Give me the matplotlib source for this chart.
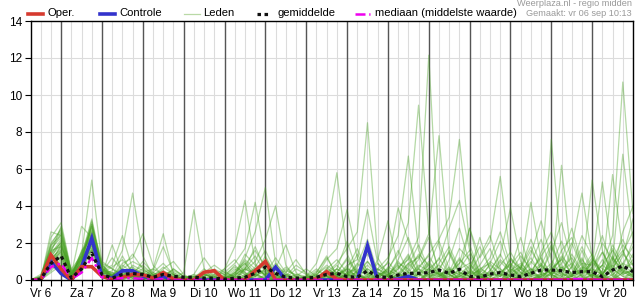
import numpy as np
import matplotlib
matplotlib.use('Agg')
import matplotlib.pyplot as plt
from matplotlib.lines import Line2D

plt.rcParams['font.family'] = ['Liberation Sans', 'DejaVu Sans']

# 6-uurlijkse stappen vanaf vr 6 sep 06:00 t/m za 21 00:00
dagen = ['Vr 6', 'Za 7', 'Zo 8', 'Ma 9', 'Di 10', 'Wo 11', 'Do 12', 'Vr 13',
         'Za 14', 'Zo 15', 'Ma 16', 'Di 17', 'Wo 18', 'Do 19', 'Vr 20']

oper = [0, 0, 1.35, 0.6, 0, 0.72, 0.72, 0.2, 0.02, 0.15, 0.3, 0.28, 0.1, 0.4, 0.05,
        0, 0, 0.42, 0.5, 0, 0, 0, 0.5, 1.0, 0, 0, 0, 0, 0.05, 0.45, 0.05,
        0, 0, 0, 0, 0, 0, 0, 0, 0, 0, 0, 0, 0, 0, 0, 0, 0, 0, 0, 0, 0, 0, 0, 0, 0, 0, 0, 0, 0]
controle = [0, 0, 1.0, 0.35, 0, 0.7, 2.25, 0.2, 0.1, 0.5, 0.5, 0.2, 0.1, 0.2, 0,
            0, 0, 0, 0, 0, 0, 0, 0, 0, 0.7, 0, 0, 0, 0, 0, 0,
            0, 0, 1.85, 0, 0, 0.05, 0.2, 0, 0, 0, 0, 0, 0, 0, 0, 0, 0, 0, 0, 0, 0, 0, 0, 0, 0, 0, 0, 0, 0]
gemiddelde = [0, 0.05, 0.9, 1.3, 0.1, 0.6, 1.45, 0.3, 0.1, 0.3, 0.35, 0.3, 0.15, 0.3, 0.2,
              0.15, 0.15, 0.1, 0.1, 0.05, 0.1, 0.15, 0.36, 0.7, 0.36, 0.15, 0.1, 0.1, 0.15, 0.3, 0.36,
              0.18, 0.15, 0.5, 0.18, 0.13, 0.27, 0.36, 0.36, 0.4, 0.54, 0.36, 0.58, 0.2, 0.15,
              0.32, 0.4, 0.27, 0.18, 0.36, 0.54, 0.54, 0.5, 0.4, 0.45, 0.45, 0.18, 0.54, 0.76, 0.45]
mediaan = [0, 0, 0.7, 0.9, 0.05, 0.4, 1.2, 0.15, 0.05, 0.1, 0.1, 0.05, 0, 0.05, 0,
           0, 0, 0, 0, 0, 0, 0, 0, 0.05, 0, 0, 0, 0, 0, 0, 0,
           0, 0, 0, 0, 0, 0, 0, 0, 0, 0, 0, 0, 0, 0, 0, 0, 0, 0, 0, 0, 0, 0, 0.05, 0.05, 0, 0, 0, 0, 0]

# ensemble-leden (afgelezen, niet alle 50)
m01 = [0,0,1.2, 2.1,.3,1.1,3.2, .6,.2,.4,.3, .1,0,.3,.1, 0,0,.1,0, 0,.2,1.1,.6, .3,0,0,0, 0,0,.3,.8, .2,0,.1,.6, .3,0,0,0, .4,1.2,.3,0, 0,0,.5,1.4, .3,0,0,.2, 7.6,1.5,.2,0, 0,.3,1.1,2.2, .8]
m02 = [0,.1,1.8, 2.6,.2,1.4,5.4, .9,.1,0,.2, 0,.3,.1,0, 0,.1,0,0, .2,.8,.3,0, 0,.1,.6,.2, 0,0,0,.4, 1.1,.3,0,0, 0,.6,1.4,.3, 0,0,.2,.9, 1.6,.4,0,0, .2,.7,1.8,.5, 0,6.2,.8,.1, .3,0,0,.6, .2]
m03 = [0,0,.9, 1.6,.1,.8,2.4, .3,.5,1.6,4.7, 1.3,.2,0,0, 0,0,.3,.1, 0,0,0,.3, .9,.2,0,0, .1,.4,1.2,.3, 0,0,0,0, .2,1.1,2.3,.6, .1,0,.3,0, 0,.5,1.2,2.6, .8,0,0,.3, .5,.1,1.8,4.7, 1.2,.3,0,.4, 1.1]
m04 = [0,.2,1.5, 2.9,.4,1.2,2.8, .5,.8,2.4,.6, .2,.1,.4,.1, 0,0,0,0, .1,.4,.9,.2, 0,0,0,0, .2,.6,.2,0, .3,1.4,.5,0, 0,0,.4,1.1, 2.3,.5,0,.2, .6,0,0,0, 0,.2,.4,1.3, 2.1,.4,0,.3, 5.4,1.6,.2,0, .4]
m05 = [0,0,2.3, 3.1,.5,.6,1.9, .4,.2,.9,1.2, 2.5,.8,.2,0, 0,.2,0,0, 0,0,.6,1.3, .4,0,0,.1, 0,0,0,.2, .7,.1,0,.2, 1.0,.3,0,0, .3,0,1.1,2.8, .9,.2,0,0, .4,1.3,.6,.1, 0,0,.3,.9, .8,5.3,1.2,.4, .2]
m06 = [0,0,1.1, 1.8,.2,.9,3.0, .7,.1,.3,.5, .4,.6,2.5,.3, 0,0,0,.2, .5,.1,0,0, .3,1.2,.4,0, 0,0,.6,1.1, .4,0,0,0, 0,.2,.8,1.9, .6,.3,0,0, 0,.1,.4,.2, 1.2,.6,.1,0, .3,.9,2.0,.7, .1,.4,5.7,1.6, .3]
m07 = [0,.1,.7, 1.3,.1,1.6,2.2, .2,0,.1,.8, .5,.1,.2,.1, .4,3.8,.6,0, 0,0,.2,.5, 1.1,.3,0,0, 0,.2,0,0, 0,.5,1.0,.2, 0,0,0,.3, .8,2.1,.6,0, .2,0,0,.4, .9,0,.3,.8, 1.9,.6,0,0, .2,.8,2.4,10.7, 3.6]
m08 = [0,0,1.9, 2.4,.3,1.3,3.3, .8,.3,.6,.1, 0,0,.1,.6, .2,0,0,.1, .6,1.8,4.3,.9, .2,0,.3,0, 0,0,.1,.2, .6,1.7,.4,0, .2,0,0,.4, 1.0,.3,0,.6, 1.4,.2,0,0, 0,.6,2.2,.8, .3,.1,0,.6, 1.4,.3,1.0,6.8, 2.1]
m09 = [0,0,.5, 1.0,0,.4,1.7, .3,.1,.2,0, .3,.2,0,0, 0,.1,.4,.8, .4,.9,1.7,4.2, 1.2,.3,.1,0, 0,.1,.4,.2, 0,0,.2,.9, .4,.2,0,0, .1,.5,1.6,.4, .2,0,.9,2.1, .5,0,0,0, .4,1.2,.3,0, 0,0,.6,1.5, 2.6]
m10 = [0,.1,1.4, 2.2,.2,1.0,2.6, .6,.4,.1,.2, 0,.4,.9,.3, 0,0,0,0, 0,.3,1.2,2.6, 5.0,.9,.2,0, .1,0,0,.6, 2.1,.4,0,0, 0,0,.7,1.3, .2,0,0,.3, .7,1.8,.6,0, 0,.2,.6,0, .8,2.1,.7,.2, 0,.5,1.9,.8, .4]
m11 = [0,0,1.0, 1.5,.3,.7,2.0, .4,1.2,.5,.2, .1,0,.3,.5, .2,.1,0,0, 0,0,.5,1.0, 2.2,4.0,.8,.1, 0,0,0,.1, .3,.8,2.2,.4, 0,.3,1.2,0, 0,.4,.3,1.1, .6,.2,.8,.3, 0,0,.4,.9, .3,0,.7,2.4, 1.3,.2,0,.9, 1.8]
m12 = [0,0,.8, 1.2,.1,1.1,1.6, .2,0,.3,.4, .8,.3,.1,0, 0,.2,.4,0, 0,.1,0,.2, .6,.2,0,0, .2,.9,2.6,5.8, 1.4,.3,0,.1, .5,1.6,.4,0, 0,0,.6,.3, 2.8,.7,.2,0, .3,.8,0,.2, .6,.3,1.4,.5, .2,1.1,.3,0, .6]
m13 = [0,.2,2.0, 2.7,.4,1.5,2.9, 1.0,.6,.2,.1, .3,0,0,.2, .1,0,.2,.3, .2,.6,.3,0, 0,.6,1.9,.4, 0,.2,1.1,1.7, 3.8,1.2,.3,0, 0,.2,.5,1.4, .8,.2,0,0, .4,1.3,2.4,.6, 0,.3,1.0,.4, .2,0,0,.3, .9,2.4,.6,.2, 0]
m14 = [0,0,1.3, 1.9,.2,.5,2.3, .5,.2,.7,1.4, .6,.2,.1,.3, 0,0,.1,.2, .4,.2,.8,1.6, .7,.1,0,0, 0,.1,.4,.9, 1.7,2.6,8.5,1.2, .3,0,.2,.7, 1.3,.4,0,.2, .5,.1,0,.3, 1.1,.6,.2,0, .4,1.3,.6,0, .3,.1,.8,1.9, 1.2]
m15 = [0,0,.6, .9,.1,1.2,1.8, .3,.1,.5,.3, .2,.5,1.8,.4, .1,0,0,0, 0,.3,1.4,.8, .2,0,.4,1.1, .3,0,0,.2, .8,1.1,3.8,.9, .2,.6,1.3,.3, 0,0,.4,1.7, 1.1,.3,0,0, .6,2.3,.4,.1, 0,.7,.2,1.6, .4,0,.3,.7, .2]
m16 = [0,.1,1.7, 2.3,.3,.8,2.1, .6,.3,.1,.6, .4,0,.2,.1, 0,.3,1.2,.4, 0,0,.2,.7, 1.6,.5,0,0, .2,.1,0,.3, .6,.2,0,1.1, 3.2,.7,.2,0, 0,.9,1.8,.6, .2,0,.3,1.1, .6,.2,0,.3, 1.8,.4,0,0, .7,1.5,.4,2.6, 4.0]
m17 = [0,0,1.1, 1.7,.2,1.4,2.7, .5,.1,0,.3, 1.0,.4,.1,0, .2,.1,0,0, .3,.7,.4,.1, 0,0,.2,.8, .4,0,.3,.6, .2,.7,1.4,.5, .9,3.9,2.1,.4, 0,.2,.6,0, .3,.8,1.7,.4, 0,.1,1.4,3.2, 1.1,.2,.4,1.2, 0,.3,1.2,.5, .3]
m18 = [0,0,.4, .8,0,.9,1.4, .4,.7,1.1,.5, .2,.1,.6,1.0, .3,0,0,.1, .2,.1,.6,.3, 0,.2,.7,.2, 0,.3,.8,.4, .1,0,.3,.6, 1.2,2.4,6.7,1.6, .4,.1,0,.3, .8,.2,0,0, .5,.9,.3,1.5, 2.6,.8,.1,0, .3,0,.7,1.4, .8]
m19 = [0,.2,1.6, 2.5,.5,1.1,3.1, .7,.2,.3,.2, .1,0,.4,.2, 0,0,.2,.6, .3,0,0,.4, 1.0,.3,0,0, .1,.5,.2,0, .4,.3,.8,.2, .6,1.4,3.1,9.45, 2.6,.3,0,.2, .1,.6,.9,.3, .2,0,0,.4, 1.5,3.1,1.0,.2, .4,.8,1.6,.6, .9]
m20 = [0,0,1.0, 1.4,.1,.7,1.9, .3,.2,.8,.4, 0,.2,.1,0, .1,.2,0,0, 0,.4,.9,.2, .5,.1,0,.2, .6,.2,0,.1, .3,0,.2,.4, .2,.7,1.1,2.3, 12.15,1.8,.3,0, .5,.2,.1,1.0, .4,.7,.3,.1, .6,1.1,2.8,.9, .3,.2,0,.4, 1.4]
m21 = [0,.1,1.4, 2.0,.3,1.3,2.5, .5,.4,.2,.3, .6,.2,0,.1, 0,0,.3,.1, .1,.3,.6,1.8, .6,0,0,.3, .1,0,.6,.3, .2,.9,.4,.1, 0,.3,.9,1.2, 2.5,7.8,1.4,.3, 0,.4,1.0,.6, .2,.1,.5,1.2, .3,0,.2,.7, .5,2.0,1.1,.3, .6]
m22 = [0,0,.7, 1.1,.2,1.0,2.2, .9,.6,.3,.1, .2,.6,.3,0, 0,.1,.6,.2, 0,.2,.1,.4, .3,.6,.1,0, 0,.2,.1,.4, 1.2,.4,0,.3, .4,0,.2,.6, 1.4,2.2,3.4,7.6, 1.9,.4,0,.2, .9,.4,1.2,.3, 0,.5,.9,.2, 1.1,.6,.2,1.3, 3.3]
m23 = [0,0,1.9, 2.8,.4,.9,3.0, .6,.2,.4,.7, .3,.1,.2,.4, .1,0,0,.3, .6,1.1,.4,0, .2,.9,.3,0, 0,.3,.7,.2, 0,.2,.6,.3, .2,1.0,.4,.3, .6,1.1,2.8,4.3, 1.6,.3,.1,0, .2,.6,1.6,.7, .4,.2,0,.1, 1.0,.4,.8,.3, .5]
m24 = [0,.1,1.2, 1.6,.2,.6,1.6, .4,.1,.6,1.0, .7,.3,.1,0, 0,.2,.1,0, .1,0,.3,.6, .4,.1,0,0, .2,0,.2,.3, .5,.2,1.0,.4, .1,.3,.2,.8, .5,.2,.4,.9, 2.8,1.2,2.1,5.6, 1.2,.4,0,.2, .6,1.1,.3,.6, .2,.8,.4,0, .2]
m25 = [0,0,.9, 1.9,.3,1.5,2.4, .8,.2,.1,.2, .1,.2,.7,.3, 0,0,0,0, 0,0,.2,.3, .1,0,.1,.6, .3,0,.1,.2, .6,.4,.1,0, .3,.8,.2,0, .3,.6,1.5,.4, .2,0,.5,1.3, 3.9,1.0,.2,.3, .4,1.6,2.3,.8, .2,.1,1.7,.5, .1]
m26 = [0,0,1.5, 2.0,.2,1.1,2.9, .4,.3,.2,.5, .2,.4,.2,.1, .1,.3,.1,0, 0,.1,.6,.3, 1.3,.3,0,0, .1,.1,.2,.6, .3,.1,0,.2, .6,.2,.9,.3, .2,.4,.1,.6, .9,.3,.2,.8, 1.5,.6,4.2,1.1, .3,0,.2,.5, 1.2,.3,.1,.7, 2.1]
m27 = [0,.1,.8, 1.3,.1,.8,1.7, .3,1.9,.4,.2, 0,.3,.5,.2, 0,.1,.3,.2, .1,.5,1.0,.4, 0,.3,.2,.1, 0,.4,1.3,.2, .4,.6,.2,0, .7,.4,0,.3, .9,.3,.5,.1, .4,2.3,.5,.2, .6,.3,.9,2.2, .5,.2,.7,1.8, .6,.3,.9,1.6, .4]
m28 = [0,0,1.1, 1.5,.3,1.2,2.0, .5,.2,1.3,.3, .4,.1,.2,.6, .2,0,.1,.1, .2,.1,0,.2, .6,.2,.5,.3, .2,0,.4,.2, .1,.5,.3,.6, .2,.9,.6,0, .4,.8,.3,1.2, .3,.5,.2,.4, .8,1.5,.4,.2, .3,.7,.2,1.1, .4,1.5,.6,.2, .3]
m29 = [0,0,2.6, 2.4,.3,2.9,2.3, .6,.1,.2,.3, .2,.1,.4,.3, 0,0,.2,.4, .3,.2,.7,.3, .1,0,0,0, 0,0,.2,.4, .3,.2,.1,.3, .5,.3,.1,.6, .3,.2,.7,.2, .4,.1,.3,.2, .3,.4,.2,.8, .3,.6,1.2,.4, 1.0,.2,.5,.9, .6]
m30 = [0,.3,1.6, 1.8,.6,1.3,2.6, .4,.3,.2,.1, .3,.2,.1,.2, .1,0,.3,.1, 0,.4,.2,.6, .3,.1,.3,.2, .1,.3,.2,.1, .2,.4,.6,.2, .3,.1,.4,.2, .6,.3,.2,.4, .2,.6,.3,.5, .2,.3,.6,.4, .9,.3,.2,.4, .6,.3,1.3,.4, .5]

leden = [m01, m02, m03, m04, m05, m06, m07, m08, m09, m10, m11, m12, m13, m14, m15,
         m16, m17, m18, m19, m20, m21, m22, m23, m24, m25, m26, m27, m28, m29, m30]
for i, m in enumerate(leden):
    assert len(m) == 60, (i + 1, len(m))

t = np.arange(60)

fig = plt.figure(figsize=(6.35, 3.0), dpi=100)
ax = fig.add_axes([30.5/635, 20/300, 602.5/635, 259/300])

# raster: licht elke 6 uur, donker om middernacht
for i in t:
    ax.axvline(i, color='#dcdcdc', lw=0.8, zorder=0)
for i in range(3, 59, 4):
    ax.axvline(i, color='#555555', lw=1.0, zorder=0.5)
for y in range(2, 14, 2):
    ax.axhline(y, color='#dcdcdc', lw=0.8, zorder=0)

for m in leden:
    ax.plot(t, m, color='#45a020', lw=0.9, alpha=0.4, zorder=1)

ax.plot(t, controle, color='#3333cc', lw=2.6, zorder=2, solid_joinstyle='miter')
ax.plot(t, oper, color='#d63a2f', lw=2.6, zorder=3, solid_joinstyle='miter')
ax.plot(t, mediaan, color='#ee00ee', lw=1.8, ls=(0, (4, 1.5, 1, 1.5)), zorder=4)
ax.plot(t, gemiddelde, color='#111111', lw=2.3, ls=(0, (1.1, 1.1)), zorder=5)

ax.set_xlim(0, 59)
ax.set_ylim(0, 14)
ax.set_yticks(range(0, 15, 2))
ax.set_xticks(range(1, 59, 4))
ax.set_xticklabels(dagen)
ax.set_xticks(t, minor=True)
ax.tick_params(axis='both', which='both', direction='out', length=4, width=0.8,
               labelsize=8.5, colors='black', pad=2)
for s in ax.spines.values():
    s.set_color('black')
    s.set_linewidth(1.0)
    s.set_zorder(6)

# legenda boven de grafiek
legenda = [('Oper.', dict(color='#d63a2f', lw=2.6), 28, 43, 47),
           ('Controle', dict(color='#3333cc', lw=2.6), 100, 115, 119),
           ('Leden', dict(color='#b9d9a6', lw=0.9), 184, 200, 203),
           ('gemiddelde', dict(color='#111111', lw=2.3, ls=(0, (1.1, 1.1))), 257, 269, 277),
           ('mediaan (middelste waarde)', dict(color='#ee00ee', lw=1.8, ls=(0, (4, 1.5, 1, 1.5))), 355, 370, 375)]
yl = 1 - 13.5/300
for naam, stijl, x0, x1, xt in legenda:
    fig.add_artist(Line2D([x0/635, x1/635], [yl, yl], transform=fig.transFigure, **stijl))
    fig.text(xt/635, yl, naam, fontsize=8.1, va='center', ha='left')

fig.text(632/635, 1 - 4/300, 'Weerplaza.nl - regio midden', fontsize=6.6,
         color='#999999', ha='right', va='center')
fig.text(632/635, 1 - 14/300, 'Gemaakt: vr 06 sep 10:13', fontsize=6.6,
         color='#999999', ha='right', va='center')

fig.savefig('out.png', dpi=100)
